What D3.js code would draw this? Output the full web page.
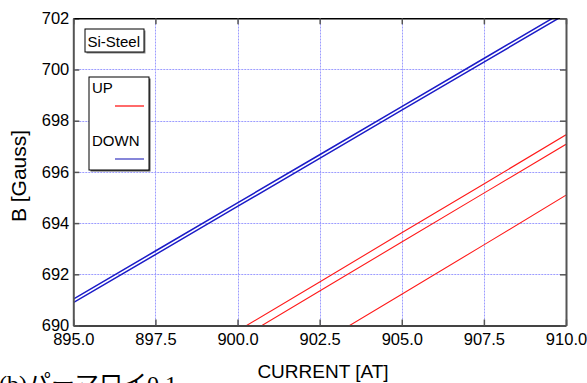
<!DOCTYPE html>
<html>
<head>
<meta charset="utf-8">
<script src="https://cdn.jsdelivr.net/npm/d3@7"></script>
<style>
  body { margin: 0; background: #fff; }
  svg { display: block; font-family: "Liberation Sans", Arial, sans-serif; }
</style>
</head>
<body>
<div id="chart"></div>
<script>
const width = 587, height = 383;

// data
const currents = [895, 897.5, 900, 902.5, 905, 907.5, 910];
const down1 = [691.03, 692.91, 694.79, 696.67, 698.55, 700.43, 702.31];
const down2 = [690.89, 692.77, 694.65, 696.53, 698.41, 700.29, 702.17];
const up1 = [null, null, 689.79, 691.70, 693.62, 695.53, 697.45];
const up2 = [null, null, 689.43, 691.35, 693.26, 695.17, 697.08];
const up3 = [null, null, null, 689.30, 691.22, 693.15, 695.09];

const xTicks = [895, 897.5, 900, 902.5, 905, 907.5, 910];
const yTicks = [690, 692, 694, 696, 698, 700, 702];

const series = [
    { name: 'UP', values: up1, color: '#ff1a1a', w: 1.1 },
    { name: 'UP', values: up2, color: '#ff1a1a', w: 1.1 },
    { name: 'UP', values: up3, color: '#ff1a1a', w: 1.1 },
    { name: 'DOWN', values: down1, color: '#1c1cc8', w: 1.5 },
    { name: 'DOWN', values: down2, color: '#1c1cc8', w: 1.5 }
];

const x = d3.scaleLinear().domain([895, 910]).range([73.3, 566]);
const y = d3.scaleLinear().domain([690, 702]).range([325.5, 18.3]);

const svg = d3.select('#chart')
    .append('svg')
    .attr('width', width)
    .attr('height', height);

svg.append('rect').attr('width', width).attr('height', height).attr('fill', '#fff');

svg.append('clipPath').attr('id', 'plot')
    .append('rect')
    .attr('x', x.range()[0]).attr('y', y.range()[1])
    .attr('width', x.range()[1] - x.range()[0])
    .attr('height', y.range()[0] - y.range()[1]);

// dotted grid
const grid = svg.append('g')
    .attr('stroke', '#9c9cff')
    .attr('stroke-width', 1)
    .attr('stroke-dasharray', '2,1');
grid.selectAll('.gx')
    .data(xTicks.slice(1, -1))
    .enter().append('line')
    .attr('x1', d => Math.round(x(d)) + 0.5).attr('x2', d => Math.round(x(d)) + 0.5)
    .attr('y1', y.range()[0]).attr('y2', y.range()[1]);
grid.selectAll('.gy')
    .data(yTicks.slice(1, -1))
    .enter().append('line')
    .attr('y1', d => Math.round(y(d)) + 0.5).attr('y2', d => Math.round(y(d)) + 0.5)
    .attr('x1', x.range()[0]).attr('x2', x.range()[1]);

// lines
const line = d3.line()
    .defined(d => d[1] !== null)
    .x(d => x(d[0]))
    .y(d => y(d[1]));

svg.append('g')
    .attr('clip-path', 'url(#plot)')
    .selectAll('path')
    .data(series)
    .enter().append('path')
    .attr('fill', 'none')
    .attr('stroke', d => d.color)
    .attr('stroke-width', d => d.w)
    .attr('d', d => line(currents.map((c, i) => [c, d.values[i]])));

// axes
function styleAxis(g, color, w) {
    g.select('.domain').attr('stroke', color).attr('stroke-width', w);
    g.selectAll('.tick line').attr('stroke', '#555').attr('stroke-width', 1.5);
    g.selectAll('text').attr('fill', '#000').attr('font-size', 16.5)
        .attr('font-family', '"Liberation Sans", Arial, sans-serif');
}

svg.append('g')
    .attr('transform', `translate(0,${y.range()[0]})`)
    .call(d3.axisBottom(x).tickValues(xTicks).tickFormat(d3.format('.1f'))
        .tickSizeInner(-6).tickSizeOuter(0).tickPadding(8))
    .call(g => styleAxis(g, '#444', 2));

svg.append('g')
    .attr('transform', `translate(${x.range()[0]},0)`)
    .call(d3.axisLeft(y).tickValues(yTicks).tickFormat(d3.format('d'))
        .tickSizeInner(-6).tickSizeOuter(0).tickPadding(4))
    .call(g => styleAxis(g, '#555', 2));

svg.append('g')
    .attr('transform', `translate(0,${y.range()[1]})`)
    .call(d3.axisTop(x).tickValues(xTicks).tickFormat('')
        .tickSizeInner(-6).tickSizeOuter(0))
    .call(g => styleAxis(g, '#000', 1.5));

svg.append('g')
    .attr('transform', `translate(${x.range()[1]},0)`)
    .call(d3.axisRight(y).tickValues(yTicks).tickFormat('')
        .tickSizeInner(-6).tickSizeOuter(0))
    .call(g => styleAxis(g, '#555', 2));

// axis titles
svg.append('text')
    .attr('x', 323).attr('y', 378.3)
    .attr('text-anchor', 'middle')
    .attr('font-size', 19)
    .text('CURRENT [AT]');

svg.append('text')
    .attr('transform', 'translate(26,176) rotate(-90)')
    .attr('text-anchor', 'middle')
    .attr('font-size', 21)
    .text('B [Gauss]');

// caption (cut by the bottom edge)
svg.append('text')
    .attr('x', -1).attr('y', 392)
    .attr('font-size', 24)
    .attr('font-family', '"Liberation Serif", "Noto Sans CJK JP", serif')
    .text('(b)パーマロイ0.1');

// "Si-Steel" label box
const tag = svg.append('g');
tag.append('rect').attr('x', 86.5).attr('y', 30.5).attr('width', 59).attr('height', 23).attr('fill', '#888');
tag.append('rect').attr('x', 85).attr('y', 29).attr('width', 59).attr('height', 23)
    .attr('fill', '#fff').attr('stroke', '#000').attr('stroke-width', 1);
tag.append('text').attr('x', 87.5).attr('y', 46.5).attr('font-size', 15).text('Si-Steel');

// legend
const legendItems = [
    { name: 'UP', color: '#ff1a1a' },
    { name: 'DOWN', color: '#4444c4' }
];
const legend = svg.append('g');
legend.append('rect').attr('x', 90.5).attr('y', 78.5).attr('width', 60).attr('height', 93).attr('fill', '#555');
legend.append('rect').attr('x', 89).attr('y', 77).attr('width', 60).attr('height', 93)
    .attr('fill', '#fff').attr('stroke', '#000').attr('stroke-width', 1);
const li = legend.selectAll('.item')
    .data(legendItems)
    .enter().append('g')
    .attr('transform', (d, i) => `translate(0,${i * 53})`);
li.append('text').attr('x', 92).attr('y', 93).attr('font-size', 15).text(d => d.name);
li.append('line')
    .attr('x1', 115).attr('x2', 144)
    .attr('y1', 106).attr('y2', 106)
    .attr('stroke', d => d.color).attr('stroke-width', 1.3);
</script>
</body>
</html>
